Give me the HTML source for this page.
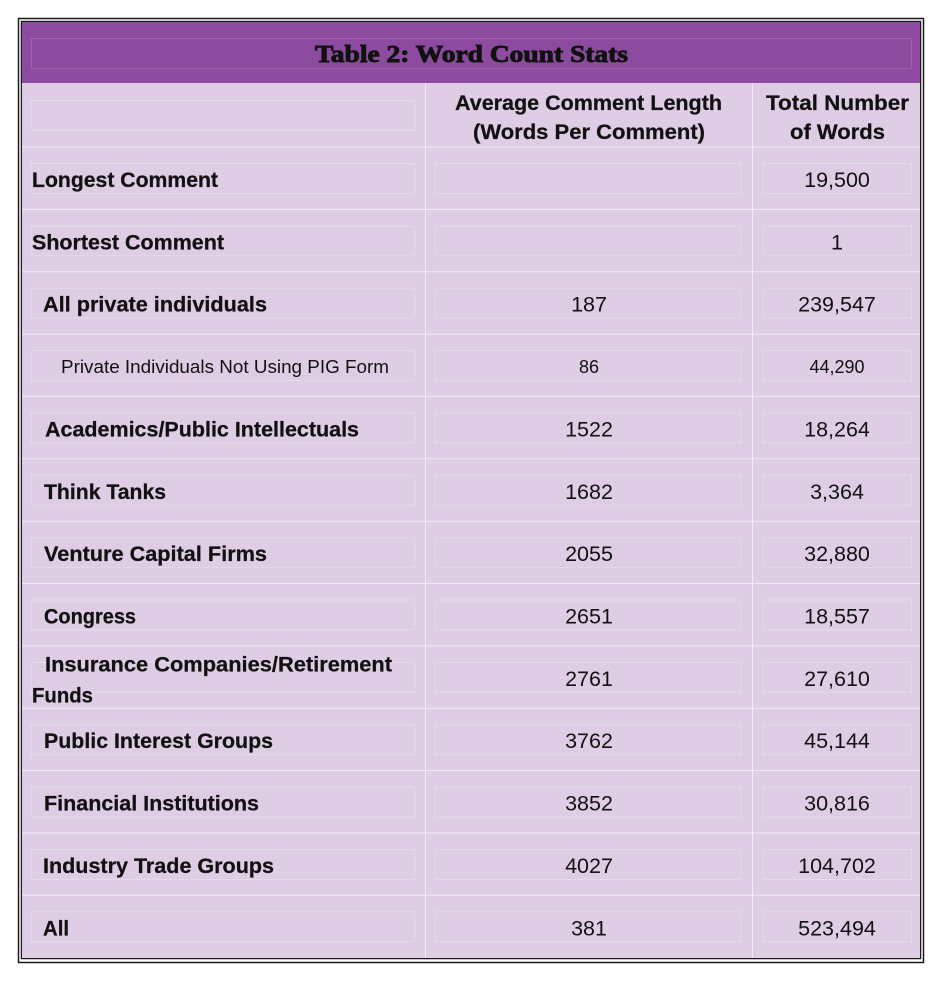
<!DOCTYPE html>
<html>
<head>
<meta charset="utf-8">
<style>
  html, body { margin:0; padding:0; background:#ffffff; }
  body { width:936px; height:991px; overflow:hidden; }
  svg { display:block; }
  .lab { font-family:"Liberation Sans", Arial, sans-serif; font-weight:bold; font-size:21px; fill:#111; stroke:#111; stroke-width:0.25; }
  .num { font-family:"Liberation Sans", Arial, sans-serif; font-size:21.5px; fill:#111; }
  .sm  { font-family:"Liberation Sans", Arial, sans-serif; font-size:18px; fill:#111; }
  .ttl { font-family:"Liberation Serif", "Times New Roman", serif; font-weight:bold; font-size:24px; fill:#111; stroke:#111; stroke-width:0.9; }
</style>
</head>
<body>
<svg width="936" height="991" viewBox="0 0 936 991" xmlns="http://www.w3.org/2000/svg">
  <!-- outer double border -->
  <rect x="18.5" y="18.5" width="905" height="944" fill="none" stroke="#1a1a1a" stroke-width="1.5"/>
  <rect x="21.5" y="21.5" width="899" height="937" fill="none" stroke="#1a1a1a" stroke-width="1.5"/>
  <!-- body background -->
  <rect x="22" y="22" width="898" height="936" fill="#dfcde5"/>
  <!-- header -->
  <rect x="22" y="22" width="898" height="61" fill="#8c4b9f"/>
  <rect x="31.5" y="38.5" width="880" height="30" fill="none" stroke="#9c66ad" stroke-width="1"/>
  <text class="ttl" x="315" y="62" textLength="313" lengthAdjust="spacingAndGlyphs">Table 2: Word Count Stats</text>

  <!-- column dividers -->
  <line x1="425.5" y1="83" x2="425.5" y2="958" stroke="#f3ecf5" stroke-width="1"/>
  <line x1="752.5" y1="83" x2="752.5" y2="958" stroke="#f3ecf5" stroke-width="1"/>

  <!-- row dividers -->
  <g stroke="#f3ecf5" stroke-width="1">
    <line x1="22" y1="147" x2="920" y2="147"/>
    <line x1="22" y1="209.4" x2="920" y2="209.4"/>
    <line x1="22" y1="271.7" x2="920" y2="271.7"/>
    <line x1="22" y1="334.1" x2="920" y2="334.1"/>
    <line x1="22" y1="396.4" x2="920" y2="396.4"/>
    <line x1="22" y1="458.8" x2="920" y2="458.8"/>
    <line x1="22" y1="521.2" x2="920" y2="521.2"/>
    <line x1="22" y1="583.5" x2="920" y2="583.5"/>
    <line x1="22" y1="645.9" x2="920" y2="645.9"/>
    <line x1="22" y1="708.2" x2="920" y2="708.2"/>
    <line x1="22" y1="770.6" x2="920" y2="770.6"/>
    <line x1="22" y1="833" x2="920" y2="833"/>
    <line x1="22" y1="895.3" x2="920" y2="895.3"/>
  </g>

  <!-- inner cell boxes -->
  <g fill="none" stroke="#e6d9ea" stroke-width="1">
    <rect x="31.5" y="100.5" width="383" height="30"/>
  </g>
  <g fill="none" stroke="#e6d9ea" stroke-width="1">
    <rect x="31.5" y="163.5" width="383" height="30"/><rect x="435.5" y="163.5" width="305" height="30"/><rect x="763.5" y="163.5" width="148" height="30"/>
    <rect x="31.5" y="225.9" width="383" height="30"/><rect x="435.5" y="225.9" width="305" height="30"/><rect x="763.5" y="225.9" width="148" height="30"/>
    <rect x="31.5" y="288.2" width="383" height="30"/><rect x="435.5" y="288.2" width="305" height="30"/><rect x="763.5" y="288.2" width="148" height="30"/>
    <rect x="31.5" y="350.6" width="383" height="30"/><rect x="435.5" y="350.6" width="305" height="30"/><rect x="763.5" y="350.6" width="148" height="30"/>
    <rect x="31.5" y="412.9" width="383" height="30"/><rect x="435.5" y="412.9" width="305" height="30"/><rect x="763.5" y="412.9" width="148" height="30"/>
    <rect x="31.5" y="475.3" width="383" height="30"/><rect x="435.5" y="475.3" width="305" height="30"/><rect x="763.5" y="475.3" width="148" height="30"/>
    <rect x="31.5" y="537.7" width="383" height="30"/><rect x="435.5" y="537.7" width="305" height="30"/><rect x="763.5" y="537.7" width="148" height="30"/>
    <rect x="31.5" y="600" width="383" height="30"/><rect x="435.5" y="600" width="305" height="30"/><rect x="763.5" y="600" width="148" height="30"/>
    <rect x="31.5" y="662.4" width="383" height="30"/><rect x="435.5" y="662.4" width="305" height="30"/><rect x="763.5" y="662.4" width="148" height="30"/>
    <rect x="31.5" y="724.7" width="383" height="30"/><rect x="435.5" y="724.7" width="305" height="30"/><rect x="763.5" y="724.7" width="148" height="30"/>
    <rect x="31.5" y="787.1" width="383" height="30"/><rect x="435.5" y="787.1" width="305" height="30"/><rect x="763.5" y="787.1" width="148" height="30"/>
    <rect x="31.5" y="849.5" width="383" height="30"/><rect x="435.5" y="849.5" width="305" height="30"/><rect x="763.5" y="849.5" width="148" height="30"/>
    <rect x="31.5" y="911.8" width="383" height="30"/><rect x="435.5" y="911.8" width="305" height="30"/><rect x="763.5" y="911.8" width="148" height="30"/>
  </g>

  <!-- header labels -->
  <text class="lab" x="455" y="110" textLength="267" lengthAdjust="spacingAndGlyphs">Average Comment Length</text>
  <text class="lab" x="473" y="139" textLength="232" lengthAdjust="spacingAndGlyphs">(Words Per Comment)</text>
  <text class="lab" x="766" y="110" textLength="143" lengthAdjust="spacingAndGlyphs">Total Number</text>
  <text class="lab" x="790" y="139" textLength="95" lengthAdjust="spacingAndGlyphs">of Words</text>

  <!-- row labels -->
  <text class="lab" x="32" y="187" textLength="186" lengthAdjust="spacingAndGlyphs">Longest Comment</text>
  <text class="lab" x="32" y="249.4" textLength="192" lengthAdjust="spacingAndGlyphs">Shortest Comment</text>
  <text class="lab" x="43" y="311.7" textLength="224" lengthAdjust="spacingAndGlyphs">All private individuals</text>
  <text class="sm" x="61" y="373" textLength="328" lengthAdjust="spacingAndGlyphs">Private Individuals Not Using  PIG Form</text>
  <text class="lab" x="45" y="436.4" textLength="314" lengthAdjust="spacingAndGlyphs">Academics/Public Intellectuals</text>
  <text class="lab" x="44" y="498.8" textLength="122" lengthAdjust="spacingAndGlyphs">Think Tanks</text>
  <text class="lab" x="44" y="561.2" textLength="223" lengthAdjust="spacingAndGlyphs">Venture Capital Firms</text>
  <text class="lab" x="44" y="623.5" textLength="92" lengthAdjust="spacingAndGlyphs">Congress</text>
  <text class="lab" x="45" y="671.7" textLength="347" lengthAdjust="spacingAndGlyphs">Insurance Companies/Retirement</text>
  <text class="lab" x="32" y="702.7" textLength="61" lengthAdjust="spacingAndGlyphs">Funds</text>
  <text class="lab" x="44" y="748.2" textLength="229" lengthAdjust="spacingAndGlyphs">Public Interest Groups</text>
  <text class="lab" x="44" y="810.6" textLength="215" lengthAdjust="spacingAndGlyphs">Financial Institutions</text>
  <text class="lab" x="43" y="873" textLength="231" lengthAdjust="spacingAndGlyphs">Industry Trade Groups</text>
  <text class="lab" x="43" y="935.3" textLength="26" lengthAdjust="spacingAndGlyphs">All</text>

  <!-- column 2 numbers -->
  <g class="num" text-anchor="middle">
    <text x="589" y="311.7">187</text>
    <text x="589" y="436.4">1522</text>
    <text x="589" y="498.8">1682</text>
    <text x="589" y="561.2">2055</text>
    <text x="589" y="623.5">2651</text>
    <text x="589" y="686">2761</text>
    <text x="589" y="748.2">3762</text>
    <text x="589" y="810.6">3852</text>
    <text x="589" y="873">4027</text>
    <text x="589" y="935.3">381</text>
  </g>
  <text class="sm" x="589" y="373" text-anchor="middle">86</text>

  <!-- column 3 numbers -->
  <g class="num" text-anchor="middle">
    <text x="837" y="187">19,500</text>
    <text x="837" y="249.4">1</text>
    <text x="837" y="311.7">239,547</text>
    <text x="837" y="436.4">18,264</text>
    <text x="837" y="498.8">3,364</text>
    <text x="837" y="561.2">32,880</text>
    <text x="837" y="623.5">18,557</text>
    <text x="837" y="686">27,610</text>
    <text x="837" y="748.2">45,144</text>
    <text x="837" y="810.6">30,816</text>
    <text x="837" y="873">104,702</text>
    <text x="837" y="935.3">523,494</text>
  </g>
  <text class="sm" x="837" y="373" text-anchor="middle">44,290</text>
</svg>
</body>
</html>
